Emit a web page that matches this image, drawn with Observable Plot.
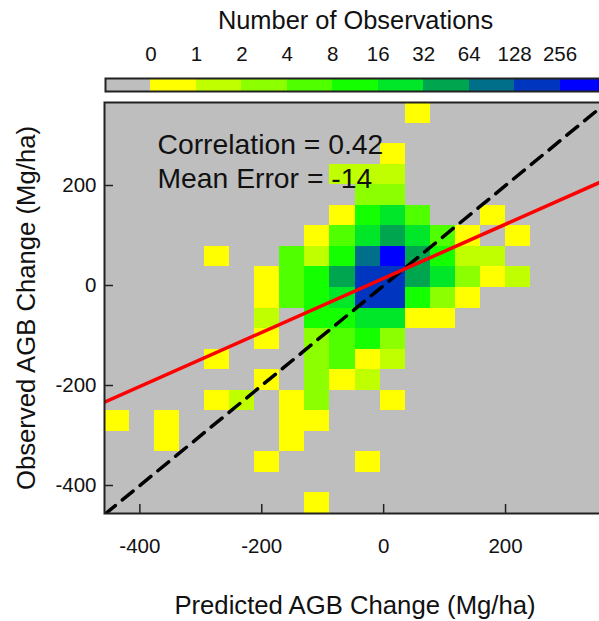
<!DOCTYPE html>
<html><head><meta charset="utf-8">
<script src="https://cdn.jsdelivr.net/npm/d3@7"></script>
<script src="https://cdn.jsdelivr.net/npm/@observablehq/plot@0.6"></script>
<style>
html,body{margin:0;padding:0;background:#fff;overflow:hidden;}
svg{overflow:hidden;display:block;}
</style></head><body><div id="chart"></div>
<script>
// ---- legend ----
const legendTitle = "Number of Observations";
const legendLabels = ["0","1","2","4","8","16","32","64","128","256"];
const countBreaks = [1,2,4,8,16,32,64,128,256,512];
const levelColors = ["#bebebe","#ffff00","#c0ff00","#8cff00","#50ff00","#14ff00","#00e628","#00a550","#00708a","#0035c0","#0000ff"];
// ---- binned counts (rows top to bottom, columns left to right) ----
const levelCodes = "abcdefghij";
const levelCounts = [1,3,6,12,24,48,96,190,380,600];
const gridRows = [
  "............a.......",
  "....................",
  "...........a........",
  ".........bbb........",
  "..........cc........",
  ".........aefd..a....",
  "........adfgfda.a...",
  "....a..dbehjgebb....",
  "......adegiigfcab...",
  "......adefiieca.....",
  "......b.eeffaa......",
  "......a.cdec........",
  "....a...cdab........",
  "......a.cab.........",
  "....ab.ac..a........",
  "a.a....aa...........",
  "..a....a............",
  "......a...a.........",
  "....................",
  "........a..........."
];
const xDomain = [-458, 364];
const yDomain = [-456, 366];
const binWidth = 41.1;
const xTicks = [-400, -200, 0, 200];
const yTicks = [-400, -200, 0, 200];
const xLabel = "Predicted AGB Change (Mg/ha)";
const yLabel = "Observed AGB Change (Mg/ha)";
const correlation = "0.42";
const meanError = "-14";
const fitIntercept = 14.4;
const fitSlope = 0.541;

const nRows = gridRows.length;
const cells = [];
gridRows.forEach((row, r) => {
  [...row].forEach((ch, c) => {
    const k = levelCodes.indexOf(ch);
    if (k < 0) return;
    const x1 = xDomain[0] + c * binWidth;
    const y1 = yDomain[0] + (nRows - 1 - r) * binWidth;
    cells.push({x1, x2: x1 + binWidth, y1, y2: y1 + binWidth, count: levelCounts[k]});
  });
});

const font = "'Liberation Sans', Arial, Helvetica, sans-serif";
const colorScale = {type: "threshold", domain: countBreaks, range: levelColors};
const legendSegments = levelColors.map((d, i) => ({i, count: i === 0 ? 0 : countBreaks[i - 1]}));

const legend = Plot.plot({
  width: 599, height: 100,
  marginLeft: 105, marginRight: -6, marginTop: 78, marginBottom: 9,
  style: {fontFamily: font, color: "#111", background: "#fff"},
  x: {domain: [0, levelColors.length], axis: null},
  color: colorScale,
  marks: [
    Plot.rect(legendSegments, {x1: d => d.i, x2: d => d.i + 1, fill: "count", shapeRendering: "crispEdges"}),
    Plot.frame({stroke: "#222", strokeWidth: 2}),
    Plot.text(legendLabels, {x: (d, i) => i + 1, text: d => d, frameAnchor: "top", lineAnchor: "middle", dy: -24, fontSize: 20.5}),
    Plot.text([legendTitle], {text: d => d, frameAnchor: "top", lineAnchor: "middle", textAnchor: "middle", dy: -58, fontSize: 25.4})
  ]
});

const main = Plot.plot({
  width: 599, height: 521,
  marginLeft: 104, marginRight: -6, marginTop: 2, marginBottom: 108,
  style: {fontFamily: font, color: "#111", background: "#fff"},
  x: {domain: xDomain},
  y: {domain: yDomain},
  color: colorScale,
  marks: [
    Plot.frame({fill: "#bebebe"}),
    Plot.rect(cells, {x1: "x1", x2: "x2", y1: "y1", y2: "y2", fill: "count", shapeRendering: "crispEdges"}),
    Plot.line(xDomain, {x: d => d, y: d => d, stroke: "#000", strokeWidth: 3.5, strokeDasharray: "14,9", clip: true}),
    Plot.line(xDomain, {x: d => d, y: d => fitIntercept + fitSlope * d, stroke: "#ff0000", strokeWidth: 3.5, clip: true}),
    Plot.ruleX(xTicks, {x: d => d, insetTop: 402, stroke: "#222", strokeWidth: 1.5}),
    Plot.ruleY(yTicks, {y: d => d, insetRight: 492, stroke: "#222", strokeWidth: 1.5}),
    Plot.axisX({ticks: xTicks, tickSize: 0, tickPadding: 25, fontSize: 20.5, tickFormat: d => String(d), label: null}),
    Plot.axisY({ticks: yTicks, tickSize: 0, tickPadding: 8, fontSize: 20.5, tickFormat: d => String(d), label: null}),
    Plot.text([xLabel], {text: d => d, frameAnchor: "bottom", lineAnchor: "middle", textAnchor: "middle", dy: 92, fontSize: 25.7}),
    Plot.text([yLabel], {text: d => d, frameAnchor: "left", lineAnchor: "middle", textAnchor: "middle", rotate: -90, dx: -78, fontSize: 25.7}),
    Plot.text([`Correlation = ${correlation}`], {text: d => d, frameAnchor: "top-left", textAnchor: "start", lineAnchor: "top", dx: 53, dy: 31, fontSize: 28.3}),
    Plot.text([`Mean Error = ${meanError}`], {text: d => d, frameAnchor: "top-left", textAnchor: "start", lineAnchor: "top", dx: 53, dy: 65, fontSize: 28.3}),
    Plot.frame({stroke: "#222", strokeWidth: 2})
  ]
});

const root = document.getElementById("chart");
root.appendChild(legend);
root.appendChild(main);
</script></body></html>
